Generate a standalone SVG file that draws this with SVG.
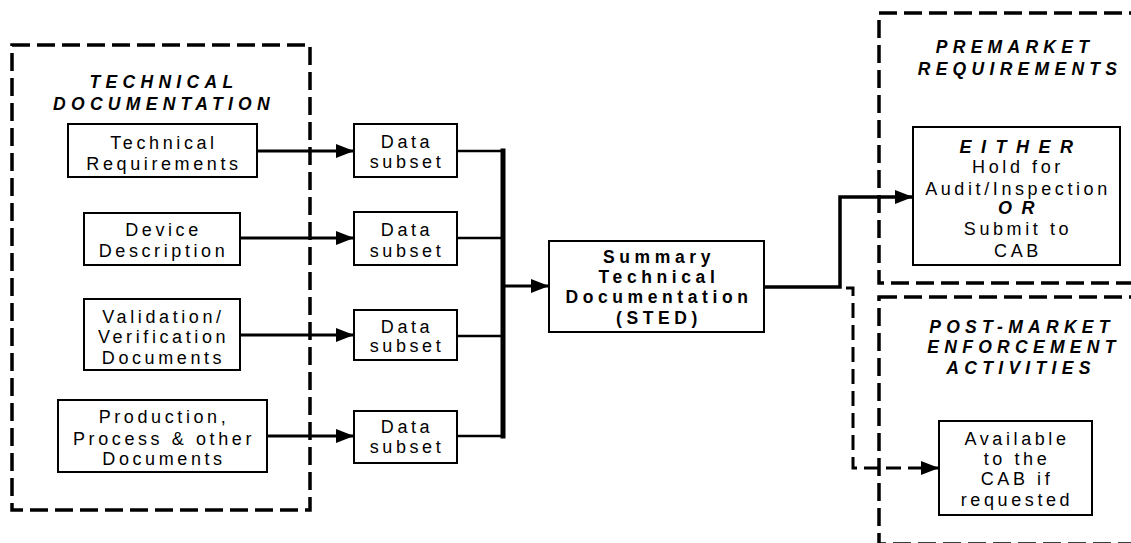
<svg xmlns="http://www.w3.org/2000/svg" width="1131" height="543" viewBox="0 0 1131 543">
  <style>
    .zone { fill: none; stroke: #000; stroke-width: 3.5; stroke-dasharray: 18 7; }
    .box { fill: #fff; stroke: #000; stroke-width: 2; }
    .t { font-family: "Liberation Sans", Arial, sans-serif; font-size: 18px; letter-spacing: 3.6px; text-anchor: middle; fill: #000; }
    .tb { font-family: "Liberation Sans", Arial, sans-serif; font-size: 17.5px; font-weight: bold; letter-spacing: 4.6px; text-anchor: middle; fill: #000; }
    .title { font-family: "Liberation Sans", Arial, sans-serif; font-size: 17.5px; font-weight: bold; font-style: italic; letter-spacing: 5.3px; text-anchor: middle; fill: #000; }
    .key { font-family: "Liberation Sans", Arial, sans-serif; font-size: 18px; font-weight: bold; font-style: italic; letter-spacing: 9.5px; text-anchor: middle; fill: #000; }
    .line { fill: none; stroke: #000; stroke-width: 3; }
    .thin { fill: none; stroke: #000; stroke-width: 2.5; }
    .bus { fill: none; stroke: #000; stroke-width: 5; }
    .out { fill: none; stroke: #000; stroke-width: 3.5; }
    .dash { fill: none; stroke: #000; stroke-width: 3; stroke-dasharray: 15 7; }
  </style>
  <defs>
    <marker id="arrow" viewBox="0 0 18 14" refX="18" refY="7" markerWidth="18" markerHeight="14" markerUnits="userSpaceOnUse" orient="auto">
      <path d="M0,0 L18,7 L0,14 Z" fill="#000"/>
    </marker>
  </defs>

  <!-- zones -->
  <g id="zone-technical-documentation">
    <rect class="zone" x="12" y="45" width="298" height="465"/>
    <text class="title" x="164" y="88">TECHNICAL</text>
    <text class="title" x="164" y="110">DOCUMENTATION</text>
  </g>
  <g id="zone-premarket">
    <rect class="zone" x="879" y="13" width="280" height="270"/>
    <text class="title" x="1015" y="53">PREMARKET</text>
    <text class="title" x="1020" y="75">REQUIREMENTS</text>
  </g>
  <g id="zone-postmarket">
    <rect class="zone" x="879" y="297" width="280" height="247"/>
    <text class="title" x="1022" y="333">POST-MARKET</text>
    <text class="title" x="1024" y="353">ENFORCEMENT</text>
    <text class="title" x="1021" y="374">ACTIVITIES</text>
  </g>

  <!-- connectors -->
  <g id="connectors">
    <path class="line" d="M257,151 H354" marker-end="url(#arrow)"/>
    <path class="line" d="M240,238 H354" marker-end="url(#arrow)"/>
    <path class="line" d="M240,335 H354" marker-end="url(#arrow)"/>
    <path class="line" d="M267,436 H354" marker-end="url(#arrow)"/>
    <path class="thin" d="M457,151 H503"/>
    <path class="thin" d="M457,238 H503"/>
    <path class="thin" d="M457,336 H503"/>
    <path class="thin" d="M457,436 H503"/>
    <path class="bus" d="M503,148.5 V438.5"/>
    <path class="line" d="M503,286 H549" marker-end="url(#arrow)"/>
    <path class="out" d="M764,287 H840 V197 H913" marker-end="url(#arrow)"/>
    <path class="dash" d="M846,288 H853 V468 H939" marker-end="url(#arrow)"/>
  </g>

  <!-- source documents -->
  <g id="node-technical-requirements">
    <rect class="box" x="68" y="124" width="189" height="53"/>
    <text class="t" x="164" y="149">Technical</text>
    <text class="t" x="164" y="170">Requirements</text>
  </g>
  <g id="node-device-description">
    <rect class="box" x="84" y="213" width="156" height="52"/>
    <text class="t" x="163.5" y="236">Device</text>
    <text class="t" x="163.5" y="257">Description</text>
  </g>
  <g id="node-validation">
    <rect class="box" x="84" y="299" width="156" height="71"/>
    <text class="t" x="163.5" y="323">Validation/</text>
    <text class="t" x="163.5" y="343">Verification</text>
    <text class="t" x="163.5" y="364">Documents</text>
  </g>
  <g id="node-production">
    <rect class="box" x="58" y="400" width="209" height="72"/>
    <text class="t" x="164" y="423">Production,</text>
    <text class="t" x="164" y="445">Process &amp; other</text>
    <text class="t" x="164" y="465">Documents</text>
  </g>

  <!-- data subsets -->
  <g id="node-subset-1">
    <rect class="box" x="354" y="124" width="103" height="53"/>
    <text class="t" x="407" y="148">Data</text>
    <text class="t" x="407" y="168">subset</text>
  </g>
  <g id="node-subset-2">
    <rect class="box" x="354" y="212" width="103" height="53"/>
    <text class="t" x="407" y="236">Data</text>
    <text class="t" x="407" y="257">subset</text>
  </g>
  <g id="node-subset-3">
    <rect class="box" x="354" y="310" width="103" height="50"/>
    <text class="t" x="407" y="333">Data</text>
    <text class="t" x="407" y="352">subset</text>
  </g>
  <g id="node-subset-4">
    <rect class="box" x="354" y="411" width="103" height="52"/>
    <text class="t" x="407" y="433">Data</text>
    <text class="t" x="407" y="453">subset</text>
  </g>

  <!-- summary -->
  <g id="node-sted">
    <rect class="box" x="549" y="241" width="215" height="91"/>
    <text class="tb" x="659" y="263">Summary</text>
    <text class="tb" x="659" y="283">Technical</text>
    <text class="tb" x="659" y="303">Documentation</text>
    <text class="tb" x="659" y="324">(STED)</text>
  </g>

  <!-- outcomes -->
  <g id="node-either">
    <rect class="box" x="913" y="127" width="207" height="138"/>
    <text class="key" x="1021" y="153">EITHER</text>
    <text class="t" x="1018" y="173">Hold for</text>
    <text class="t" x="1018" y="195">Audit/Inspection</text>
    <text class="key" x="1021" y="214">OR</text>
    <text class="t" x="1018" y="235">Submit to</text>
    <text class="t" x="1018" y="257">CAB</text>
  </g>
  <g id="node-available">
    <rect class="box" x="939" y="421" width="153" height="94"/>
    <text class="t" x="1017" y="445">Available</text>
    <text class="t" x="1017" y="465">to the</text>
    <text class="t" x="1017" y="485">CAB if</text>
    <text class="t" x="1017" y="506">requested</text>
  </g>
</svg>
